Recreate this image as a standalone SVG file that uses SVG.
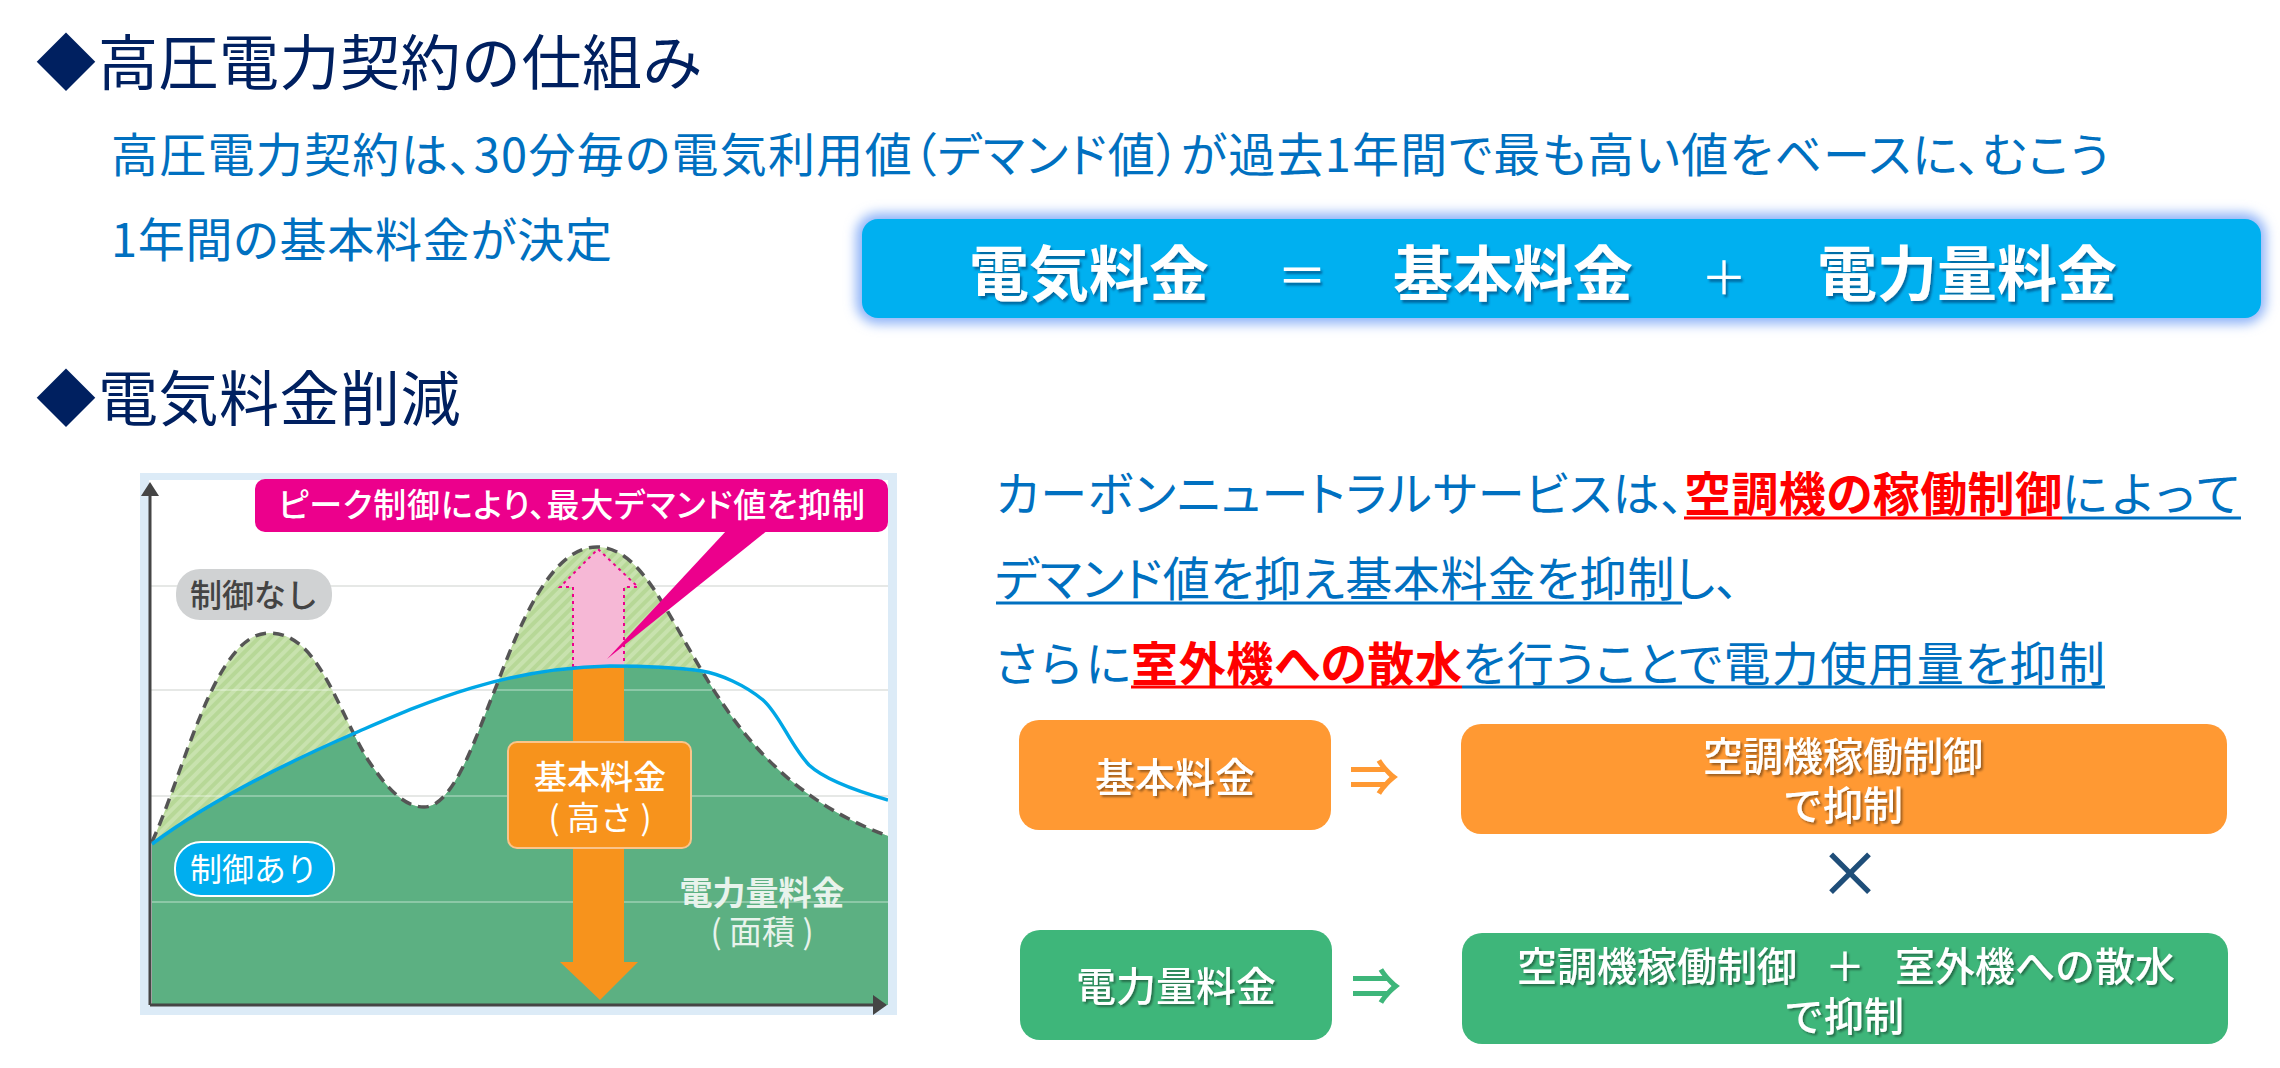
<svg xmlns="http://www.w3.org/2000/svg" width="2280" height="1068" viewBox="0 0 2280 1068">
<defs>
<style>
text{font-family:"Noto Sans CJK JP","Noto Sans",sans-serif}
.h{font-size:60px;fill:#002060;letter-spacing:.5px}
.b{font-size:47px;fill:#0070c0;font-feature-settings:"palt"}
.w{font-size:40px;fill:#fff;text-anchor:middle;font-weight:500;filter:url(#ts)}
.hl{fill:#f00;font-weight:700}
.u{stroke:#0070c0;stroke-width:3}
.ur{stroke:#f00;stroke-width:3}
.c{text-anchor:middle}
.f{font-size:60px;fill:#fff;font-weight:700;filter:url(#ts2)}
.p{font-feature-settings:"palt"}
</style>
<filter id="ts" x="-10%" y="-20%" width="120%" height="140%"><feDropShadow dx="2" dy="2" stdDeviation="1" flood-color="#000" flood-opacity=".4"/></filter>
<filter id="ts2" x="-10%" y="-20%" width="120%" height="140%"><feDropShadow dx="2" dy="3" stdDeviation="1" flood-color="#003c70" flood-opacity=".6"/></filter>
<filter id="glow" x="-5%" y="-30%" width="110%" height="160%"><feGaussianBlur stdDeviation="6"/></filter>
<filter id="soft" x="-2%" y="-2%" width="104%" height="104%"><feGaussianBlur stdDeviation="0.7"/></filter>
<pattern id="hatch" width="8" height="8" patternUnits="userSpaceOnUse" patternTransform="rotate(45)"><rect width="8" height="8" fill="#c8e2ae"/><rect width="4" height="8" fill="#b7d897"/></pattern>
<clipPath id="plot"><rect x="150" y="482" width="738" height="523"/></clipPath>
<clipPath id="under-dash"><path d="M152 842C185 770 215 633 269 633C318 633 335 705 368 760C388 790 405 807 424 807C455 807 478 730 498 682C525 610 555 547 597 547C640 547 665 610 702 671C740 735 790 800 888 836V1005H152Z"/></clipPath>
</defs>
<rect width="2280" height="1068" fill="#fff"/>
<g id="heading1"><text class="h" x="36" y="85">◆<tspan x="98">高圧電力契約の仕組み</tspan></text></g>
<g id="intro">
<text class="b" x="111" y="172" textLength="1998" lengthAdjust="spacing">高圧電力契約は、30分毎の電気利用値（デマンド値）が過去1年間で最も高い値をベースに、むこう</text>
<text class="b" x="111" y="257" textLength="501" lengthAdjust="spacing">1年間の基本料金が決定</text>
</g>
<g id="formula">
<rect x="856" y="213" width="1410" height="111" rx="22" fill="#8fb4f8" filter="url(#glow)"/>
<rect x="862" y="219" width="1399" height="99" rx="16" fill="#00b0f0"/>
<text class="f c" x="1089" y="296">電気料金</text>
<text class="f c" x="1302" y="294" style="font-size:50px;font-weight:400">＝</text>
<text class="f c" x="1513" y="296">基本料金</text>
<text class="f c" x="1724" y="294" style="font-size:46px;font-weight:400">＋</text>
<text class="f c" x="1967" y="296">電力量料金</text>
</g>
<g id="heading2"><text class="h" x="36" y="421">◆<tspan x="98">電気料金削減</tspan></text></g>
<g id="chart">
<g filter="url(#soft)">
<rect x="140" y="473" width="757" height="542" fill="#dcebf7"/>
<rect x="149" y="480" width="739" height="525" fill="#fff"/>
<path d="M150 586H888M150 690H888M150 796H888" stroke="#e6e8e6" stroke-width="2"/>
<g clip-path="url(#plot)">
<rect id="over-area" x="150" y="540" width="738" height="465" fill="url(#hatch)" clip-path="url(#under-dash)"/>
<path d="M573 667V587H560L598 549L638 587H624V667Z" fill="#f6b8d6" stroke="#ec008c" stroke-width="2" stroke-dasharray="3 4"/>
<g clip-path="url(#under-dash)">
<path id="base-area" fill="#5bb082" d="M152 844C200 808 270 770 355 733C420 705 500 668 610 666C650 666 680 668 702 671C720 674 745 685 763 700C780 715 790 745 809 765C825 780 860 792 888 800V1005H152Z"/>
<path d="M150 690H888M150 796H888M150 902H888" stroke="#fff" stroke-opacity=".3" stroke-width="2"/>
</g>
<path fill="none" stroke="#555" stroke-width="3.5" stroke-dasharray="11 7" d="M152 842C185 770 215 633 269 633C318 633 335 705 368 760C388 790 405 807 424 807C455 807 478 730 498 682C525 610 555 547 597 547C640 547 665 610 702 671C740 735 790 800 888 836"/>
<path d="M573 668H624V962H638L600 1000L560 962H573Z" fill="#f7931e"/>
<rect x="508" y="742" width="183" height="106" rx="9" fill="#f7931e" stroke="#fbc48a" stroke-width="2"/>
<path fill="none" stroke="#00a7e6" stroke-width="3.5" d="M152 844C200 808 270 770 355 733C420 705 500 668 610 666C650 666 680 668 702 671C720 674 745 685 763 700C780 715 790 745 809 765C825 780 860 792 888 800"/>
</g>
<path d="M150 1005V490" stroke="#444" stroke-width="3"/><path d="M141 496L150 482L159 496Z" fill="#444"/>
<path d="M150 1005H876" stroke="#444" stroke-width="3"/><path d="M873 995L887 1005L873 1015Z" fill="#444"/>
<path d="M727 530L768 530L607 659Z" fill="#ec008c"/>
<rect x="255" y="479" width="633" height="53" rx="10" fill="#ec008c"/>
<rect x="176" y="569" width="156" height="51" rx="24" fill="#d0d2d3"/>
<rect x="175" y="842" width="159" height="54" rx="26" fill="#00aeef" stroke="#fff" stroke-width="2"/>
</g>
<text x="278" y="517" class="p" font-size="33" font-weight="500" fill="#fff" textLength="587" lengthAdjust="spacing">ピーク制御により、最大デマンド値を抑制</text>
<text x="254" y="607" class="c" font-size="32" font-weight="500" fill="#444">制御なし</text>
<text x="254" y="881" class="c" font-size="32" fill="#fff">制御あり</text>
<text x="600" y="789" class="c" font-size="33" font-weight="500" fill="#fff">基本料金</text>
<text x="600" y="830" class="c" font-size="33" fill="#fff" xml:space="preserve">( 高さ )</text>
<text x="762" y="905" class="c" font-size="33" font-weight="700" fill="#e8f3ec">電力量料金</text>
<text x="762" y="944" class="c" font-size="33" fill="#e8f3ec" xml:space="preserve">( 面積 )</text>
</g>
<g id="lead">
<text class="b" x="996" y="511" textLength="688" lengthAdjust="spacing">カーボンニュートラルサービスは、</text>
<text class="b hl" x="1684" y="511" textLength="378" lengthAdjust="spacing">空調機の稼働制御</text>
<text class="b" x="2062" y="511" textLength="178" lengthAdjust="spacing">によって</text>
<text class="b" x="995" y="596" textLength="744" lengthAdjust="spacing">デマンド値を抑え基本料金を抑制し、</text>
<text class="b" x="995" y="681" textLength="136" lengthAdjust="spacing">さらに</text>
<text class="b hl" x="1131" y="681" textLength="331" lengthAdjust="spacing">室外機への散水</text>
<text class="b" x="1462" y="681" textLength="643" lengthAdjust="spacing">を行うことで電力使用量を抑制</text>
</g>
<g id="underlines">
<path class="ur" d="M1684 518H2062M1131 687H1462"/>
<path class="u" d="M2062 518H2241M996 603H1682M1462 687H2105"/>
</g>
<g id="base-fee"><rect x="1019" y="720" width="312" height="110" rx="20" fill="#ff9933"/><text class="w" x="1175" y="792">基本料金</text></g>
<g id="base-fee-method"><rect x="1461" y="724" width="766" height="110" rx="20" fill="#ff9933"/><text class="w" x="1843" y="771">空調機稼働制御</text><text class="w" x="1843" y="820">で抑制</text></g>
<g id="energy-fee"><rect x="1020" y="930" width="312" height="110" rx="20" fill="#3eb67a"/><text class="w" x="1176" y="1001">電力量料金</text></g>
<g id="energy-fee-method"><rect x="1462" y="933" width="766" height="111" rx="20" fill="#3eb67a"/><text class="w" y="981"><tspan x="1657">空調機稼働制御</tspan><tspan x="1845">＋</tspan><tspan x="2035">室外機への散水</tspan></text><text class="w" x="1844" y="1031">で抑制</text></g>
<g id="connectors">
<text x="1374" y="796" class="c" font-size="50" font-weight="700" fill="#ff9933">⇒</text>
<text x="1376" y="1005" class="c" font-size="50" font-weight="700" fill="#3eb67a">⇒</text>
<text x="1850" y="897" class="c" font-size="64" font-weight="500" fill="#1f4e79">×</text>
</g>
</svg>
